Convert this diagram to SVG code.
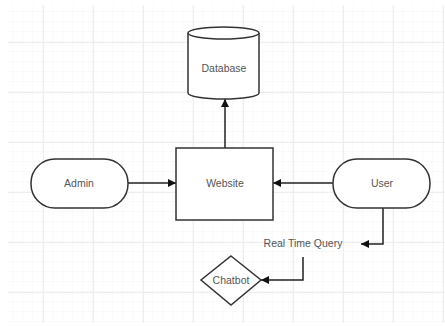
<svg xmlns="http://www.w3.org/2000/svg" width="445" height="327" viewBox="0 0 445 327">
<defs>
<pattern id="minor" x="3" y="2" width="10" height="10" patternUnits="userSpaceOnUse">
<path d="M10 0V10M0 10H10" fill="none" stroke="#f5f5f5" stroke-width="1"/>
</pattern>
<pattern id="major" x="43" y="42" width="50" height="50" patternUnits="userSpaceOnUse">
<path d="M0.5 0V50M0 0.5H50" fill="none" stroke="#eeeeee" stroke-width="1.2"/>
</pattern>
<marker id="arr" viewBox="0 0 10 10" refX="10" refY="5" markerWidth="8" markerHeight="8" markerUnits="userSpaceOnUse" orient="auto">
<path d="M0 0L10 5L0 10z" fill="#111"/>
</marker>
</defs>
<style>
.shape{fill:#fff;stroke:#333;stroke-width:1.5}
.lbl{font-family:"Liberation Sans",Arial,sans-serif;font-size:10.5px;fill:#555;text-anchor:middle;dominant-baseline:central}
.conn{fill:none;stroke:#222;stroke-width:1.5}
</style>
<rect width="445" height="327" fill="#fff"/>
<rect x="8" y="5" width="437" height="318" fill="url(#minor)"/>
<rect x="8" y="5" width="437" height="318" fill="url(#major)"/>
<g id="connectors">
<path class="conn" d="M225 148V99" marker-end="url(#arr)"/>
<path class="conn" d="M128 183H176" marker-end="url(#arr)"/>
<path class="conn" d="M333 183H273" marker-end="url(#arr)"/>
<path class="conn" d="M383 208V244H361" marker-end="url(#arr)"/>
<path class="conn" d="M303 257V280H261" marker-end="url(#arr)"/>
</g>
<g id="database">
<path class="shape" d="M188 33V93A35.5 6 0 0 0 259 93V33"/>
<ellipse class="shape" cx="223.5" cy="33" rx="35.5" ry="6"/>
<text class="lbl" x="224" y="68">Database</text>
</g>
<g id="website">
<rect class="shape" x="176" y="148" width="97" height="72"/>
<text class="lbl" x="225" y="183">Website</text>
</g>
<g id="admin">
<rect class="shape" x="31" y="159" width="97" height="49" rx="24" ry="24"/>
<text class="lbl" x="79" y="183">Admin</text>
</g>
<g id="user">
<rect class="shape" x="333" y="159" width="97" height="49" rx="24" ry="24"/>
<text class="lbl" x="382" y="183">User</text>
</g>
<g id="query">
<text class="lbl" x="303" y="243">Real Time Query</text>
</g>
<g id="chatbot">
<path class="shape" d="M231 256L261 280L231 305L201 280Z"/>
<text class="lbl" x="231" y="280">Chatbot</text>
</g>
</svg>
